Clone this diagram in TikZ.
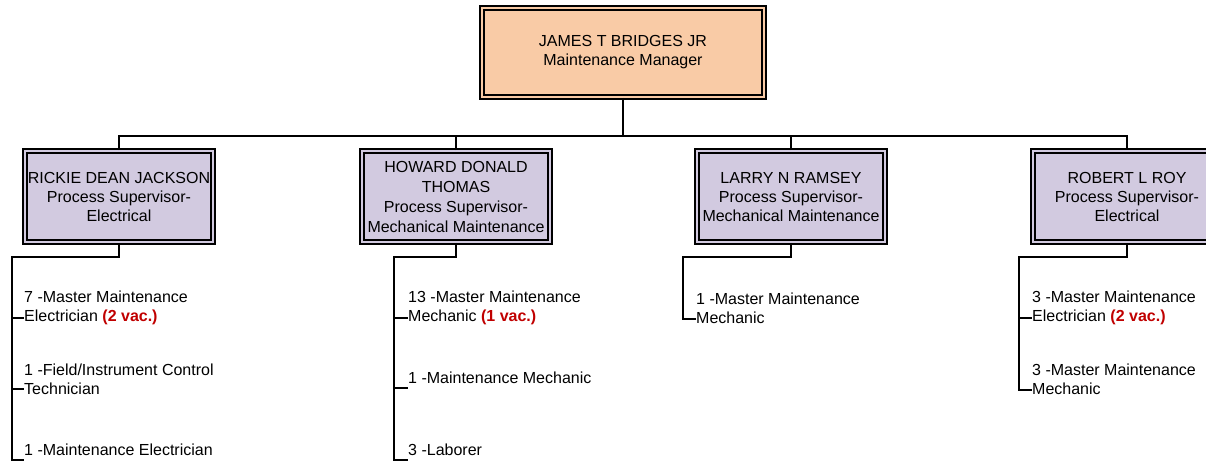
\documentclass[tikz,border=0pt]{standalone}
\usepackage{fontspec}
\setmainfont{Liberation Sans}
\usetikzlibrary{calc}
\definecolor{peach}{HTML}{F9CBA6}
\definecolor{lav}{HTML}{D2CAE0}
\definecolor{vac}{HTML}{C00000}
\begin{document}
\begin{tikzpicture}[x=1pt,y=-1pt,
  every node/.style={font=\fontsize{16}{19}\selectfont, inner sep=0pt},
  mgr/.style={draw, line width=1.8pt, double=peach, double distance=2.6pt, fill=peach, align=center, minimum width=281.8pt, minimum height=88.8pt},
  sup/.style={draw, line width=1.8pt, double=lav, double distance=2.6pt, fill=lav, align=center, minimum width=187.8pt, minimum height=90.8pt},
  item/.style={anchor=west, align=left},
  conn/.style={line width=1.8pt},
]
\useasboundingbox (0,0) rectangle (1206,464);
\clip (0,0) rectangle (1206,464);

% manager
\node[mgr] (m) at (623,52.5) {JAMES T BRIDGES JR\\Maintenance Manager};

% supervisors
\node[sup] (s1) at (119,196.5) {RICKIE DEAN JACKSON\\Process Supervisor-\\Electrical};
\node[sup, font=\fontsize{16}{20}\selectfont] (s2) at (456,196.5) {HOWARD DONALD\\THOMAS\\Process Supervisor-\\Mechanical Maintenance};
\node[sup] (s3) at (791,196.5) {LARRY N RAMSEY\\Process Supervisor-\\Mechanical Maintenance};
\node[sup] (s4) at (1127,196.5) {ROBERT L ROY\\Process Supervisor-\\Electrical};

% bus
\coordinate (bus) at (623,136);
\draw[conn] (m.south) -- (bus);
\draw[conn] (s1.north) |- (bus) -| (s4.north);
\draw[conn] (s2.north) -- (s2.north |- bus);
\draw[conn] (s3.north) -- (s3.north |- bus);

% column 1
\node[item] (a1) at (24,308) {7 -Master Maintenance\\Electrician \textcolor{vac}{\textbf{(2 vac.)}}};
\node[item] (a2) at (24,379) {1 -Field/Instrument Control\\Technician};
\node[item] (a3) at (24,450) {1 -Maintenance Electrician};
\coordinate (j1) at (12,257);
\coordinate (ta1) at ($(a1.west)+(0,10)$);
\coordinate (ta2) at ($(a2.west)+(0,10)$);
\coordinate (ta3) at ($(a3.west)+(0,10)$);
\draw[conn] (s1.south) |- (j1) |- (ta3);
\draw[conn] (j1 |- ta1) -- (ta1);
\draw[conn] (j1 |- ta2) -- (ta2);

% column 2
\node[item] (b1) at (408,308) {13 -Master Maintenance\\Mechanic \textcolor{vac}{\textbf{(1 vac.)}}};
\node[item] (b2) at (408,378) {1 -Maintenance Mechanic};
\node[item] (b3) at (408,450) {3 -Laborer};
\coordinate (j2) at (394,257);
\coordinate (tb1) at ($(b1.west)+(0,10)$);
\coordinate (tb2) at ($(b2.west)+(0,10)$);
\coordinate (tb3) at ($(b3.west)+(0,10)$);
\draw[conn] (s2.south) |- (j2) |- (tb3);
\draw[conn] (j2 |- tb1) -- (tb1);
\draw[conn] (j2 |- tb2) -- (tb2);

% column 3
\node[item] (c1) at (696,308) {1 -Master Maintenance\\Mechanic};
\coordinate (j3) at (683,257);
\coordinate (tc1) at ($(c1.west)+(0,11)$);
\draw[conn] (s3.south) |- (j3) |- (tc1);

% column 4
\node[item] (d1) at (1032,308) {3 -Master Maintenance\\Electrician \textcolor{vac}{\textbf{(2 vac.)}}};
\node[item] (d2) at (1032,379) {3 -Master Maintenance\\Mechanic};
\coordinate (j4) at (1019,257);
\coordinate (td1) at ($(d1.west)+(0,10)$);
\coordinate (td2) at ($(d2.west)+(0,11)$);
\draw[conn] (s4.south) |- (j4) |- (td2);
\draw[conn] (j4 |- td1) -- (td1);
\end{tikzpicture}
\end{document}
